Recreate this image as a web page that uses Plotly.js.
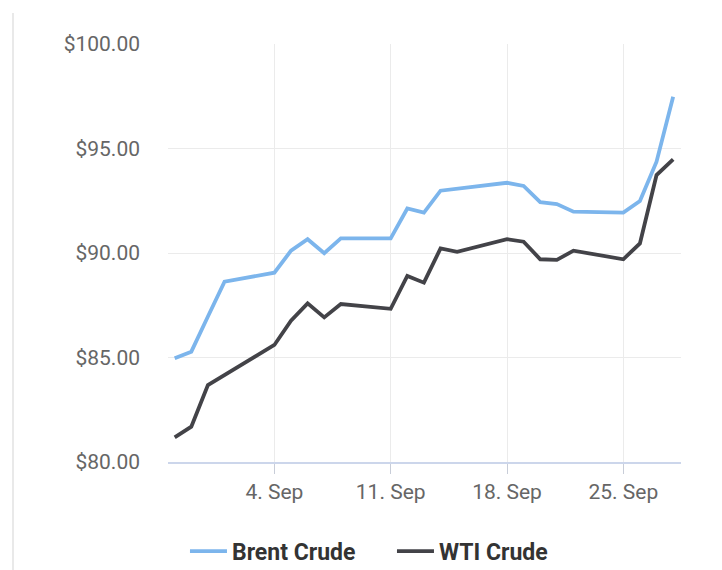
<!DOCTYPE html>
<html>
<head>
<meta charset="utf-8">
<script src="https://cdn.plot.ly/plotly-3.0.1.min.js"></script>
<style>
  html, body { margin: 0; padding: 0; background: #ffffff; }
  #chart { position: absolute; left: 0; top: 0; width: 722px; height: 570px; }
  #border { position: absolute; left: 12px; top: 13px; width: 2px; height: 557px; background: #e9e9e9; }
</style>
</head>
<body>
<div id="chart"></div>
<div id="border"></div>
<script>
const dates = ['2023-08-29','2023-08-30','2023-08-31','2023-09-01','2023-09-04','2023-09-05','2023-09-06','2023-09-07','2023-09-08','2023-09-11','2023-09-12','2023-09-13','2023-09-14','2023-09-15','2023-09-18','2023-09-19','2023-09-20','2023-09-21','2023-09-22','2023-09-25','2023-09-26','2023-09-27','2023-09-28'];
const brent = [84.96, 85.28, 86.96, 88.63, 89.06, 90.11, 90.66, 89.99, 90.70, 90.70, 92.13, 91.93, 92.98, 93.07, 93.36, 93.21, 92.43, 92.34, 91.98, 91.93, 92.49, 94.37, 97.48];
const wti = [81.18, 81.69, 83.68, 84.16, 85.60, 86.76, 87.59, 86.92, 87.56, 87.33, 88.90, 88.58, 90.22, 90.06, 90.66, 90.54, 89.70, 89.67, 90.11, 89.70, 90.46, 93.73, 94.48];
const seriesNames = ['Brent Crude', 'WTI Crude'];
const xTickVals = ['2023-09-04','2023-09-11','2023-09-18','2023-09-25'];
const xTickText = ['4. Sep','11. Sep','18. Sep','25. Sep'];
const yTickVals = [80, 85, 90, 95, 100];
const yTickText = ['$80.00', '$85.00', '$90.00', '$95.00', '$100.00'];

const traces = [
  { x: dates, y: brent, name: seriesNames[0], type: 'scatter', mode: 'lines',
    line: { color: '#7cb5ec', width: 3.8 } },
  { x: dates, y: wti, name: seriesNames[1], type: 'scatter', mode: 'lines',
    line: { color: '#434348', width: 3.8 } }
];

const layout = {
  width: 722, height: 570,
  margin: { l: 168, r: 41, t: 43.5, b: 108 },
  paper_bgcolor: '#ffffff', plot_bgcolor: '#ffffff',
  font: { family: 'Roboto, sans-serif', color: '#666666', size: 21 },
  showlegend: true,
  hovermode: false,
  xaxis: {
    type: 'date',
    range: ['2023-08-28 14:20', '2023-09-28 11:20'],
    tickmode: 'array', tickvals: xTickVals, ticktext: xTickText,
    showgrid: true, gridcolor: '#ebebeb', gridwidth: 1,
    showline: true, linecolor: '#ccd6eb', linewidth: 2,
    ticks: 'outside', ticklen: 10, tickcolor: '#c8cdd8', tickwidth: 1,
    tickfont: { size: 21, color: '#666666', family: 'Roboto, sans-serif' },
    zeroline: false, fixedrange: true
  },
  yaxis: {
    range: [80, 100],
    tickmode: 'array', tickvals: yTickVals, ticktext: yTickText,
    showgrid: true, gridcolor: '#ebebeb', gridwidth: 1,
    showline: false, zeroline: false, ticks: '',
    ticklabelstandoff: 27,
    tickfont: { size: 21, color: '#666666', family: 'Roboto, sans-serif' },
    fixedrange: true
  },
  legend: {
    orientation: 'h',
    xref: 'container', yref: 'container',
    x: 0.2562, xanchor: 'left',
    y: 0.033, yanchor: 'middle',
    itemwidth: 37,
    entrywidth: 155,
    font: { family: 'Roboto, sans-serif', size: 23, color: '#333333', weight: 'bold' },
    bgcolor: 'rgba(0,0,0,0)'
  }
};

Plotly.newPlot('chart', traces, layout, { staticPlot: true, displayModeBar: false });
</script>
</body>
</html>
